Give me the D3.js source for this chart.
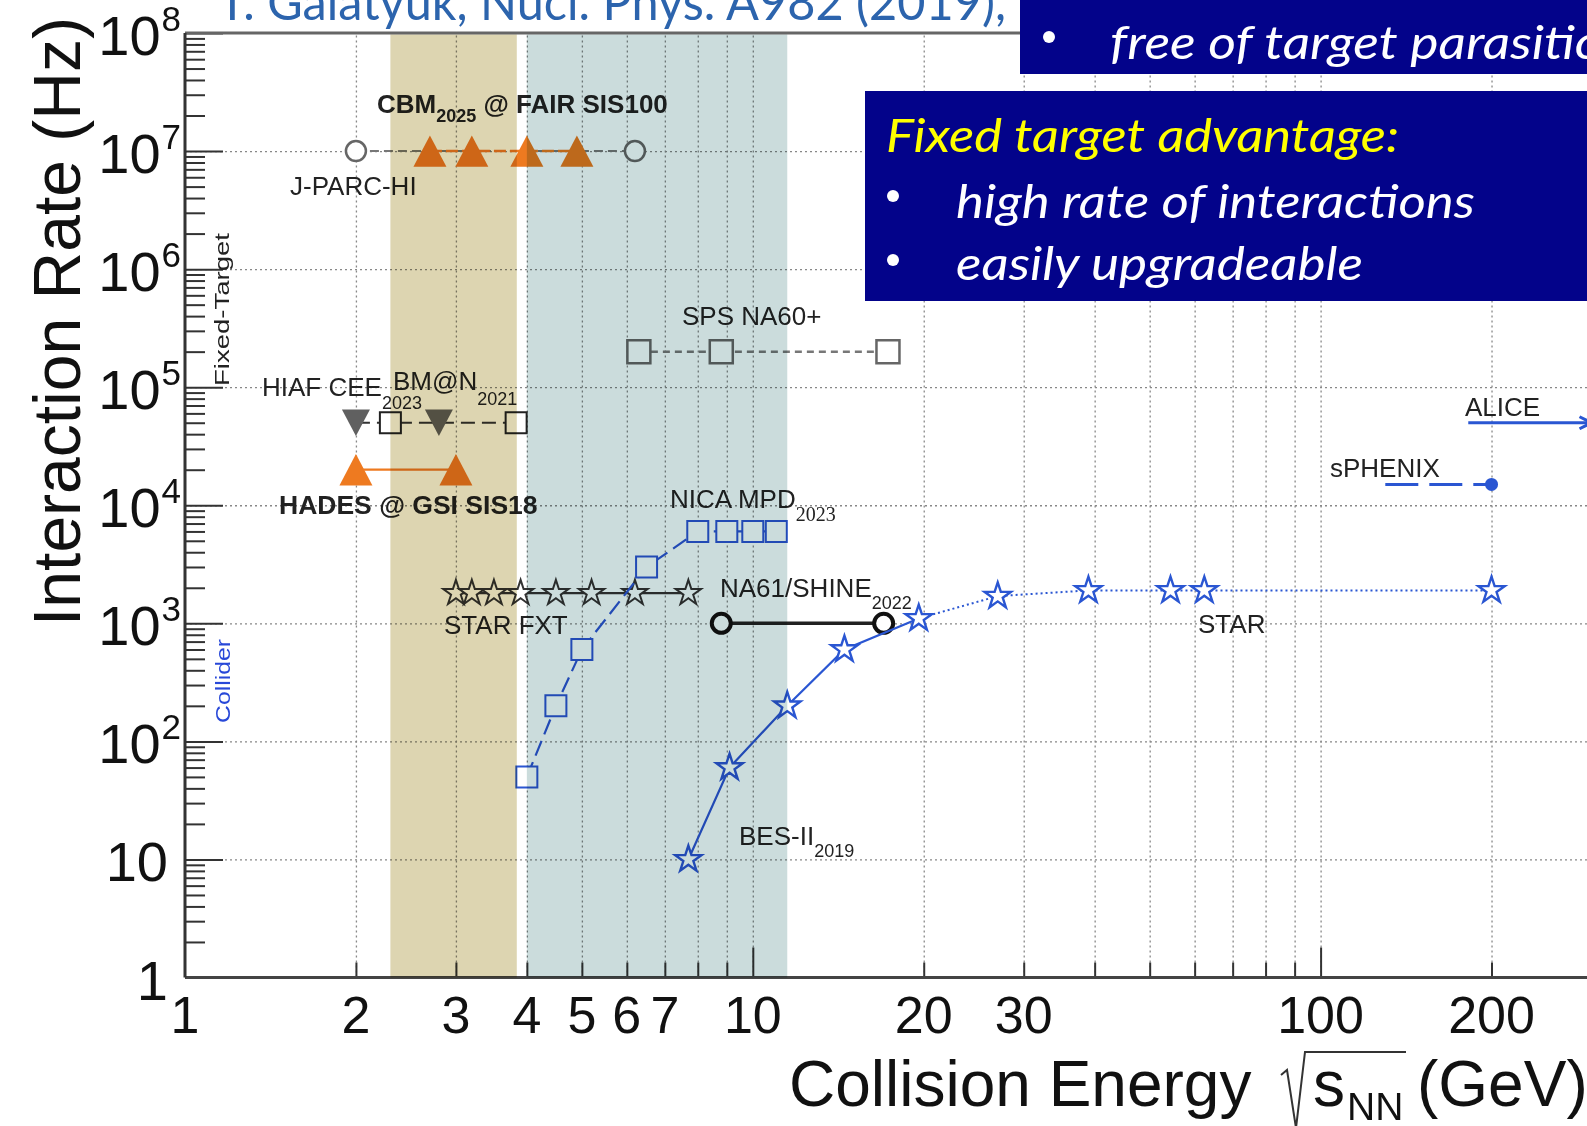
<!DOCTYPE html>
<html>
<head>
<meta charset="utf-8">
<script src="https://cdn.jsdelivr.net/npm/d3@7"></script>
<style>
  html, body { margin: 0; padding: 0; background: #fff; overflow: hidden; }
  svg { display: block; font-family: "Liberation Sans", Arial, Helvetica, sans-serif; }
  .band { mix-blend-mode: multiply; }
  .box-text { font-family: Lato, "Open Sans", sans-serif; font-style: italic; }
</style>
</head>
<body>
<svg id="chart" width="1587" height="1126"></svg>
<script>
// ---- data: collision energy (GeV) and interaction rate (Hz) ----
const bandFAIR = [2.3, 3.84];
const bandNICA = [4.0, 11.5];

const jparcE = [2.0, 6.2];
const jparcR = [1e7, 1e7];

const cbmE = [2.7, 3.2, 4.0, 4.9];
const cbmR = [1e7, 1e7, 1e7, 1e7];

const spsE = [6.3, 8.8, 17.3];
const spsR = [2e5, 2e5, 2e5];

const hiafE = [2.0, 2.8];
const hiafR = [5e4, 5e4];

const bmnE = [2.3, 3.83];
const bmnR = [5e4, 5e4];

const hadesE = [2.0, 3.0];
const hadesR = [2e4, 2e4];

const nicaE = [4.0, 4.5, 5.0, 6.5, 8.0, 9.0, 10.0, 11.0];
const nicaR = [50, 200, 600, 3000, 6000, 6000, 6000, 6000];

const fxtE = [3.0, 3.2, 3.5, 3.9, 4.5, 5.2, 6.2, 7.7];
const fxtR = [1800, 1800, 1800, 1800, 1800, 1800, 1800, 1800];

const na61E = [8.8, 17.0];
const na61R = [1000, 1000];

const besE = [7.7, 9.1, 11.5, 14.5, 19.6];
const besR = [10, 60, 200, 600, 1100];

const starE = [19.6, 27, 39, 54.4, 62.4, 200];
const starR = [1100, 1700, 1900, 1900, 1900, 1900];

const sphenixE = [130, 200];
const sphenixR = [1.5e4, 1.5e4];

const aliceE = [182, 300];
const aliceR = [5e4, 5e4];

// tick values / labels
const xTickLabels = [1, 2, 3, 4, 5, 6, 7, 10, 20, 30, 100, 200];
const xMajor = [10, 100, 1000];
const xMinor = [2, 3, 4, 5, 6, 7, 8, 9, 20, 30, 40, 50, 60, 70, 80, 90, 200, 300, 400, 500, 600, 700, 800, 900];
const yDecades = [0, 1, 2, 3, 4, 5, 6, 7, 8];
const yMinorMult = [2, 3, 4, 5, 6, 7, 8, 9];

// ---- layout ----
const plotLeft = 185, plotTop = 33, plotBottom = 977.5;
const decX = 567.8;

const svg = d3.select('#chart');

const x = d3.scaleLog().domain([1, 1000]).range([plotLeft, plotLeft + 3 * decX]);
const y = d3.scaleLog().domain([1, 1e8]).range([plotBottom, plotTop]);

const pts = (es, rs) => es.map((e, i) => ({ e, r: rs[i] }));
const line = d3.line().x(d => x(d.e)).y(d => y(d.r));

// triangle symbols, centred on the bounding box
const triUp = { draw(ctx, w) { const h = w * 0.95; ctx.moveTo(0, -h / 2); ctx.lineTo(w / 2, h / 2); ctx.lineTo(-w / 2, h / 2); ctx.closePath(); } };
const triDown = { draw(ctx, w) { const h = w * 0.95; ctx.moveTo(0, h / 2); ctx.lineTo(w / 2, -h / 2); ctx.lineTo(-w / 2, -h / 2); ctx.closePath(); } };

// ---- grid ----
const yMinor = [];
yDecades.slice(0, -1).forEach(n => yMinorMult.forEach(k => yMinor.push(k * Math.pow(10, n))));
const yMajor = yDecades.map(n => Math.pow(10, n));

svg.append('g')
  .attr('transform', `translate(0,${plotBottom})`)
  .call(d3.axisBottom(x).tickValues(xMinor.concat(xMajor)).tickSize(-(plotBottom - plotTop)).tickFormat(''))
  .call(g => g.select('.domain').remove())
  .selectAll('line')
  .attr('stroke', '#888').attr('stroke-width', 1.3).attr('stroke-dasharray', '2,3');

svg.append('g')
  .attr('transform', `translate(${plotLeft},0)`)
  .call(d3.axisRight(y).tickValues(yMajor.slice(1, -1)).tickSize(1587 - plotLeft).tickFormat(''))
  .call(g => g.select('.domain').remove())
  .selectAll('line')
  .attr('stroke', '#888').attr('stroke-width', 1.3).attr('stroke-dasharray', '2,3');

// ---- axis ticks (pointing inward) ----
function ticks(axis, transform, size) {
  svg.append('g')
    .attr('transform', transform)
    .call(axis.tickSize(size).tickFormat(''))
    .call(g => g.select('.domain').remove())
    .selectAll('line').attr('stroke', '#333').attr('stroke-width', 2);
}
ticks(d3.axisRight(y).tickValues(yMinor), `translate(${plotLeft},0)`, 20);
ticks(d3.axisRight(y).tickValues(yMajor), `translate(${plotLeft},0)`, 38);
ticks(d3.axisTop(x).tickValues(xMinor), `translate(0,${plotBottom})`, 15);
ticks(d3.axisTop(x).tickValues(xMajor), `translate(0,${plotBottom})`, 30);

// frame lines
svg.append('line').attr('x1', plotLeft).attr('x2', 1587).attr('y1', plotTop).attr('y2', plotTop)
  .attr('stroke', '#666').attr('stroke-width', 3);
svg.append('line').attr('x1', plotLeft).attr('x2', 1587).attr('y1', plotBottom).attr('y2', plotBottom)
  .attr('stroke', '#444').attr('stroke-width', 3);
svg.append('line').attr('x1', plotLeft).attr('x2', plotLeft).attr('y1', plotTop).attr('y2', plotBottom)
  .attr('stroke', '#333').attr('stroke-width', 3);

// ---- series ----
function drawLine(data, color, width, dash) {
  return svg.append('path').datum(data)
    .attr('fill', 'none').attr('stroke', color).attr('stroke-width', width)
    .attr('stroke-dasharray', dash || null)
    .attr('d', line);
}
function drawMarkers(data, type, size, fill, stroke, sw) {
  svg.append('g').selectAll('path').data(data).join('path')
    .attr('transform', d => `translate(${x(d.e)},${y(d.r)})`)
    .attr('d', d3.symbol(type, size))
    .attr('fill', fill).attr('stroke', stroke).attr('stroke-width', sw);
}

const orange = '#ee7a20';
const blue = '#2a56d2';

// J-PARC-HI and CBM at 10^7
drawLine(pts(jparcE, jparcR), '#777', 2, '9,5');
drawLine(pts(cbmE, cbmR), orange, 2.5, '12,4');
drawMarkers(pts(jparcE, jparcR), d3.symbolCircle, Math.PI * 10 * 10, '#fff', '#666', 2.5);
drawMarkers(pts(cbmE, cbmR), triUp, 33, orange, 'none', 0);

// SPS NA60+
drawLine(pts(spsE, spsR), '#777', 2.5, '7,5');
drawMarkers(pts(spsE, spsR), d3.symbolSquare, 23 * 23, '#fff', '#666', 2.5);

// HIAF CEE / BM@N
drawLine(pts([hiafE[0], bmnE[1]], [hiafR[0], bmnR[1]]), '#333', 2, '14,7');
drawMarkers(pts(bmnE, bmnR), d3.symbolSquare, 21 * 21, '#fff', '#222', 2);
drawMarkers(pts(hiafE, hiafR), triDown, 28, '#606060', 'none', 0);

// HADES
drawLine(pts(hadesE, hadesR), orange, 2.2);
drawMarkers(pts(hadesE, hadesR), triUp, 33, orange, 'none', 0);

// STAR FXT
drawLine(pts(fxtE, fxtR), '#333', 2.2);
drawMarkers(pts(fxtE, fxtR), d3.symbolStar, 200, '#fff', '#333', 2);

// NICA MPD
drawLine(pts(nicaE, nicaR), blue, 2.2, '16,7');
drawMarkers(pts(nicaE, nicaR), d3.symbolSquare, 21 * 21, '#fff', blue, 2);

// NA61/SHINE
drawLine(pts(na61E, na61R), '#222', 3.5);
drawMarkers(pts(na61E, na61R), d3.symbolCircle, Math.PI * 9.5 * 9.5, '#fff', '#111', 4);

// STAR BES-II and collider energies
drawLine(pts(starE, starR), blue, 2, '2,3');
drawLine(pts(besE, besR), blue, 2.2);
drawMarkers(pts(besE, besR).concat(pts(starE.slice(1), starR.slice(1))), d3.symbolStar, 215, '#fff', blue, 2.4);

// sPHENIX
drawLine(pts(sphenixE, sphenixR), blue, 3, '33,11');
drawMarkers(pts(sphenixE.slice(1), sphenixR.slice(1)), d3.symbolCircle, Math.PI * 6.5 * 6.5, blue, 'none', 0);

// ALICE (arrow)
svg.append('defs').append('marker')
  .attr('id', 'arrow').attr('viewBox', '0 0 10 10').attr('refX', 9).attr('refY', 5)
  .attr('markerWidth', 5).attr('markerHeight', 5).attr('orient', 'auto')
  .append('path').attr('d', 'M1,1 L9,5 L1,9').attr('fill', 'none').attr('stroke', blue).attr('stroke-width', 2);
drawLine(pts(aliceE, aliceR), blue, 3).attr('marker-end', 'url(#arrow)');

// ---- labels ----
function label(px, py, parts, opts = {}) {
  const t = svg.append('text').attr('x', px).attr('y', py)
    .attr('font-size', opts.size || 26).attr('fill', opts.color || '#222')
    .attr('font-weight', opts.bold ? 'bold' : null);
  parts.forEach(p => {
    const s = t.append('tspan').text(p.t);
    if (p.sub) s.attr('font-size', p.size || 18).attr('dy', p.sub);
    if (p.serif) s.attr('font-family', '"Liberation Serif", "Times New Roman", serif');
  });
  return t;
}
label(377, 113, [{ t: 'CBM' }, { t: '2025', sub: 9 }, { t: ' @ FAIR SIS100', sub: -9, size: 26 }], { bold: true, size: 26 });
label(290, 195, [{ t: 'J-PARC-HI' }]);
label(682, 325, [{ t: 'SPS NA60+' }]);
label(262, 396, [{ t: 'HIAF CEE' }, { t: '2023', sub: 13 }]);
label(393, 390, [{ t: 'BM@N' }, { t: '2021', sub: 15 }]);
label(279, 514, [{ t: 'HADES @ GSI SIS18' }], { bold: true, size: 26.5 });
label(670, 508, [{ t: 'NICA MPD' }, { t: '2023', sub: 13, size: 20, serif: true }]);
label(720, 597, [{ t: 'NA61/SHINE' }, { t: '2022', sub: 12 }]);
label(444, 634, [{ t: 'STAR FXT' }]);
label(739, 845, [{ t: 'BES-II' }, { t: '2019', sub: 12 }]);
label(1198, 633, [{ t: 'STAR' }]);
label(1330, 477, [{ t: 'sPHENIX' }]);
label(1465, 416, [{ t: 'ALICE' }]);

// rotated side labels
svg.append('text').attr('transform', 'translate(229,386) rotate(-90)')
  .attr('font-size', 21).attr('textLength', 153).attr('lengthAdjust', 'spacingAndGlyphs')
  .attr('fill', '#222').text('Fixed-Target');
svg.append('text').attr('transform', 'translate(230,723) rotate(-90)')
  .attr('font-size', 21).attr('textLength', 84).attr('lengthAdjust', 'spacingAndGlyphs')
  .attr('fill', '#2848d8').text('Collider');

// ---- bands (multiply over everything in the frame) ----
[[bandFAIR, '#ddd5b1'], [bandNICA, '#cbdcdc']].forEach(([b, c]) => {
  svg.append('rect').attr('class', 'band')
    .attr('x', x(b[0])).attr('width', x(b[1]) - x(b[0]))
    .attr('y', plotTop + 1.5).attr('height', plotBottom - plotTop - 1.5)
    .attr('fill', c);
});

// ---- tick labels ----
svg.append('g').selectAll('text').data(xTickLabels).join('text')
  .attr('x', d => x(d)).attr('y', 1033)
  .attr('text-anchor', 'middle').attr('font-size', 52).attr('fill', '#111')
  .text(d => d);

yDecades.forEach(n => {
  const t = svg.append('text')
    .attr('x', n < 2 ? 168 : 181).attr('y', y(Math.pow(10, n)) + 22)
    .attr('text-anchor', 'end').attr('font-size', 56).attr('fill', '#111');
  if (n === 0) t.text('1');
  else if (n === 1) t.text('10');
  else {
    t.append('tspan').text('10');
    t.append('tspan').attr('font-size', 35).attr('dy', -24).attr('dx', 1).text(n);
  }
});

// ---- axis titles ----
svg.append('text').attr('transform', 'translate(80,626) rotate(-90)')
  .attr('font-size', 66).attr('fill', '#111').text('Interaction Rate (Hz)');

svg.append('text').attr('x', 789).attr('y', 1106).attr('font-size', 64).attr('fill', '#111').text('Collision Energy');
svg.append('text').attr('x', 1313).attr('y', 1106).attr('font-size', 64).attr('fill', '#111').text('s');
svg.append('text').attr('x', 1347).attr('y', 1120).attr('font-size', 39).attr('fill', '#111').text('NN');
svg.append('text').attr('x', 1417).attr('y', 1106).attr('font-size', 64).attr('fill', '#111').text('(GeV)');
svg.append('path').attr('d', 'M1281,1075 L1287,1070 L1296,1128 L1305,1052 L1406,1052')
  .attr('fill', 'none').attr('stroke', '#333').attr('stroke-width', 2);

// ---- slide overlay: citation and text boxes ----
svg.append('text').attr('x', 218).attr('y', 20).attr('font-size', 50)
  .attr('font-family', 'Lato, "Open Sans", sans-serif')
  .attr('textLength', 788).attr('lengthAdjust', 'spacingAndGlyphs')
  .attr('fill', '#2c64ad').text('T. Galatyuk, Nucl. Phys. A982 (2019),');

const navy = '#03038a';
svg.append('rect').attr('x', 1020).attr('y', 0).attr('width', 600).attr('height', 74).attr('fill', navy);
svg.append('rect').attr('x', 865).attr('y', 91).attr('width', 760).attr('height', 210).attr('fill', navy);

function boxText(px, py, txt, len, color) {
  svg.append('text').attr('class', 'box-text').attr('x', px).attr('y', py)
    .attr('font-size', 47).attr('fill', color)
    .attr('textLength', len).attr('lengthAdjust', 'spacingAndGlyphs').text(txt);
}
function bullet(px, py) {
  svg.append('circle').attr('cx', px).attr('cy', py).attr('r', 6).attr('fill', '#fff');
}
bullet(1049, 37);
boxText(1110, 59, 'free of target parasitic', 489, '#fff');
boxText(886, 152, 'Fixed target advantage:', 513, '#ffff00');
bullet(893, 196);
boxText(956, 218, 'high rate of interactions', 519, '#fff');
bullet(893, 260);
boxText(956, 280, 'easily upgradeable', 407, '#fff');
</script>
</body>
</html>
